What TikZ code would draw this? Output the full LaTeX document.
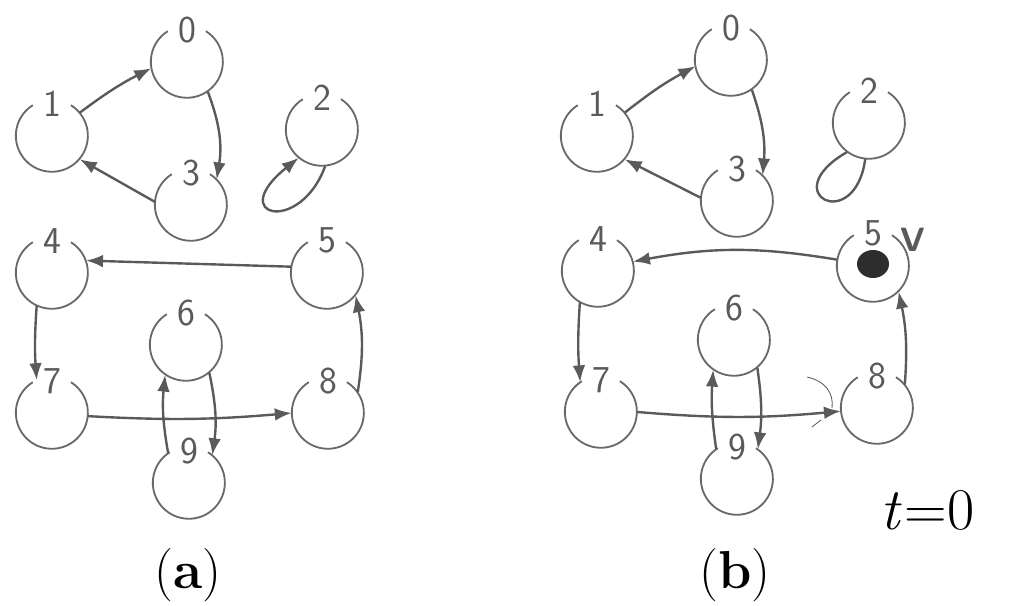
\documentclass[tikz,border=0pt]{standalone}
\usetikzlibrary{arrows.meta}
\definecolor{pencil}{RGB}{90,90,90}
\definecolor{ringc}{RGB}{105,105,105}
\definecolor{blobc}{RGB}{45,45,45}
\tikzset{
  vert/.style={circle,minimum size=1.8cm,inner sep=0pt},
  ring/.style={draw=ringc,line width=1.3pt},
  lab/.style={text=pencil,font=\sffamily\fontsize{27}{27}\selectfont,inner sep=0pt},
  edge/.style={draw=pencil,line width=1.7pt,-{Latex[length=12pt,width=9pt]}},
  plain/.style={draw=pencil,line width=1.7pt},
  captext/.style={font=\fontsize{38}{40}\selectfont,inner sep=0pt}
}
\newcommand{\ringdraw}[2]{%
  \draw[ring] (#1.122) arc[start angle=122,delta angle=296,radius=0.9cm];
  \node[lab] at ([yshift=-0.1cm]#1.north) {#2};}
\begin{document}
\begin{tikzpicture}[x=0.025cm,y=0.025cm]
\useasboundingbox (0,0) rectangle (1024,605);
% ---------- panel (a)
\node[vert] (n0a) at (187,543) {};
\node[vert] (n1a) at (52,469) {};
\node[vert] (n2a) at (322,475) {};
\node[vert] (n3a) at (191,400) {};
\node[vert] (n4a) at (52,332) {};
\node[vert] (n5a) at (327,332) {};
\node[vert] (n6a) at (186,260) {};
\node[vert] (n7a) at (52,192) {};
\node[vert] (n8a) at (328,192) {};
\node[vert] (n9a) at (189,122) {};
\ringdraw{n0a}{0}\ringdraw{n1a}{1}\ringdraw{n2a}{2}\ringdraw{n3a}{3}
\ringdraw{n4a}{4}\ringdraw{n5a}{5}\ringdraw{n6a}{6}\ringdraw{n7a}{7}
\ringdraw{n8a}{8}\ringdraw{n9a}{9}
\draw[edge] (n1a.40) to[bend left=5] (n0a.190);
\draw[edge] (n0a.-55) to[bend left=15] (n3a.45);
\draw[edge] (n3a.175) to (n1a.-40);
\draw[edge] (n2a.-85) .. controls (300,370) and (225,388) .. (n2a.-130);
\draw[edge] (n5a.170) to (n4a.20);
\draw[edge] (n4a.-115) to[bend right=4] (n7a.115);
\draw[edge] (n7a.-5) to[bend right=4] (n8a.180);
\draw[edge] (n8a.35) to[bend right=10] (n5a.-38);
\draw[edge] (n9a.125) to[bend left=8] (n6a.-125);
\draw[edge] (n6a.-50) to[bend left=10] (n9a.50);
% ---------- panel (b)
\node[vert] (n0b) at (731,545) {};
\node[vert] (n1b) at (597,469) {};
\node[vert] (n2b) at (869,482) {};
\node[vert] (n3b) at (737,404) {};
\node[vert] (n4b) at (598,334) {};
\node[vert] (n5b) at (873,339) {};
\node[vert] (n6b) at (734,265) {};
\node[vert] (n7b) at (601,193) {};
\node[vert] (n8b) at (877,197) {};
\node[vert] (n9b) at (737,126) {};
\ringdraw{n0b}{0}\ringdraw{n1b}{1}\ringdraw{n2b}{2}\ringdraw{n3b}{3}
\ringdraw{n4b}{4}\ringdraw{n5b}{5}\ringdraw{n6b}{6}\ringdraw{n7b}{7}
\ringdraw{n8b}{8}\ringdraw{n9b}{9}
\draw[edge] (n1b.40) to[bend left=5] (n0b.190);
\draw[edge] (n0b.-55) to[bend left=12] (n3b.45);
\draw[edge] (n3b.175) to (n1b.-40);
\draw[plain] (n2b.-96) .. controls (855,370) and (774,411) .. (n2b.-127);
\draw[edge] (n5b.170) to[bend right=10] (n4b.15);
\draw[edge] (n4b.-120) to[bend right=4] (n7b.125);
\draw[edge] (n7b.0) to[bend right=5] (n8b.185);
\draw[edge] (n8b.40) to[bend right=8] (n5b.-45);
\draw[edge] (n9b.125) to[bend left=6] (n6b.-125);
\draw[edge] (n6b.-50) to[bend left=8] (n9b.55);
\fill[blobc] ([yshift=0.05cm]n5b.center) ellipse[x radius=0.4cm,y radius=0.35cm];
\node[text=pencil,font=\sffamily\bfseries\fontsize{24}{24}\selectfont,inner sep=0pt] (vlab) at (913,365) {V};
\draw[pencil,line width=0.6pt] (807,228) .. controls (825,224) and (834,212) .. (832,197);
\draw[pencil,line width=0.6pt] (812,178) -- (821,185);
% ---------- captions
\node[captext] (capa) at (188,30) {(\textbf{a})};
\node[captext] (capb) at (735,30) {(\textbf{b})};
\node[font=\fontsize{42}{44}\selectfont,inner sep=0pt] (tlab) at (928,95) {\textit{t}\kern1pt=\kern1pt0};
\end{tikzpicture}
\end{document}
